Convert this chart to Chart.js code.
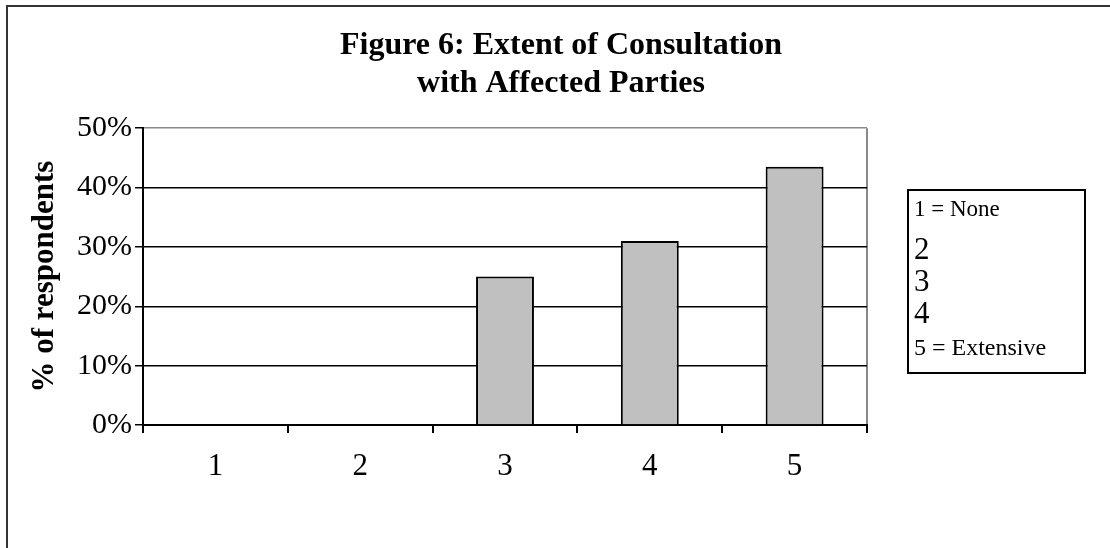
<!DOCTYPE html>
<html>
<head>
<meta charset="utf-8">
<script src="https://cdn.jsdelivr.net/npm/chart.js@4.4.0/dist/chart.umd.min.js"></script>
<style>
  html, body { margin: 0; padding: 0; background: #fff; overflow: hidden; }
  canvas { display: block; }
</style>
</head>
<body>
<canvas id="fig6" width="1110" height="548"></canvas>
<script>
// data
const categories = ['1', '2', '3', '4', '5'];
const respondents = [0, 0, 25, 31, 43.5];
const yTicks = [0, 10, 20, 30, 40, 50];
const legendLabels = ['1 = None', '2', '3', '4', '5 = Extensive'];
const titleLines = ['Figure 6: Extent of Consultation', 'with Affected Parties'];

const serif = "'Liberation Serif', 'Times New Roman', serif";

// outer frame of the chart object (right and bottom run off the picture)
const framePlugin = {
    id: 'frame',
    beforeDraw(chart) {
        const ctx = chart.ctx;
        ctx.save();
        ctx.fillStyle = '#fff';
        ctx.fillRect(0, 0, chart.width, chart.height);
        ctx.strokeStyle = '#333';
        ctx.lineWidth = 2;
        ctx.strokeRect(7, 6, 1200, 700);
        ctx.restore();
    }
};

// the legend in the original has no swatches, only text of mixed sizes
const textLegendPlugin = {
    id: 'textLegend',
    afterDraw(chart) {
        const ctx = chart.ctx;
        const sizes = [23, 31, 31, 31, 24];
        const ys = [210, 251, 283, 315, 349];
        ctx.save();
        ctx.strokeStyle = '#000';
        ctx.lineWidth = 2;
        ctx.strokeRect(908, 190, 177, 183);
        ctx.fillStyle = '#000';
        ctx.textAlign = 'left';
        ctx.textBaseline = 'middle';
        legendLabels.forEach((lbl, i) => {
            ctx.font = sizes[i] + 'px ' + serif;
            ctx.fillText(lbl, 914, ys[i]);
        });
        ctx.restore();
    }
};

new Chart(document.getElementById('fig6'), {
    type: 'bar',
    data: {
        labels: categories,
        datasets: [{
            label: '% of respondents',
            data: respondents,
            backgroundColor: '#C0C0C0',
            borderColor: '#000',
            borderWidth: 2,
            categoryPercentage: 1,
            barPercentage: 0.4
        }]
    },
    options: {
        responsive: false,
        animation: false,
        layout: { padding: { left: 12, right: 0, top: 0, bottom: 0 } },
        plugins: {
            legend: { display: false },
            tooltip: { enabled: false },
            title: {
                display: true,
                text: titleLines,
                color: '#000',
                font: { family: serif, size: 32, weight: 'bold', lineHeight: 1.19 },
                padding: { top: 27, bottom: 25 }
            }
        },
        scales: {
            x: {
                afterFit(scale) { scale.height = 123; },
                grid: {
                    offset: true,
                    drawOnChartArea: true,
                    tickLength: 8,
                    tickColor: '#000',
                    color: ctx => ctx.type === 'tick' ? 'rgba(0,0,0,0)' : '#888',
                    lineWidth: 2
                },
                border: { color: '#000', width: 2 },
                ticks: {
                    color: '#000',
                    padding: 15,
                    font: { family: serif, size: 31 }
                }
            },
            y: {
                min: 0,
                max: 50,
                afterFit(scale) { scale.width = 131; },
                afterBuildTicks(scale) {
                    scale.ticks = yTicks.map(v => ({ value: v }));
                },
                grid: {
                    tickLength: 8,
                    tickColor: '#000',
                    color: ctx => ctx.tick && ctx.tick.value === 50 ? '#888' : '#000',
                    lineWidth: 1.5
                },
                border: { color: '#000', width: 2 },
                ticks: {
                    color: '#000',
                    padding: 3,
                    font: { family: serif, size: 30 },
                    callback: v => v + '%'
                },
                title: {
                    display: true,
                    text: '% of respondents',
                    color: '#000',
                    font: { family: serif, size: 31, weight: 'bold', lineHeight: 1.2 },
                    padding: { top: 14, bottom: 0 }
                }
            },
            // empty right-hand axis reserving room for the legend
            yr: {
                position: 'right',
                afterFit(scale) { scale.width = 243; },
                grid: { drawOnChartArea: false, drawTicks: false },
                border: { display: false },
                ticks: { display: false }
            }
        }
    },
    plugins: [framePlugin, textLegendPlugin]
});
</script>
</body>
</html>
